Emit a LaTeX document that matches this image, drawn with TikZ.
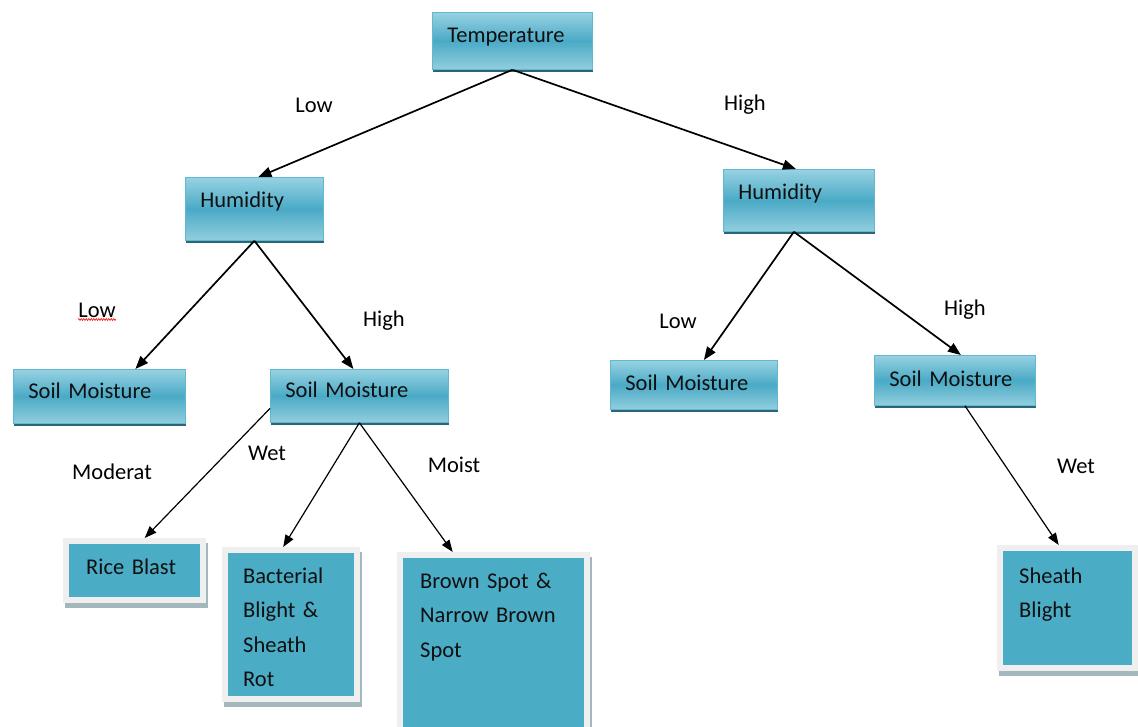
\documentclass[tikz,border=0pt]{standalone}
\usepackage{fontspec}
\setmainfont{Carlito}[WordSpace=0.75]
\usetikzlibrary{arrows.meta,shadows,decorations.pathmorphing}
\definecolor{gtop}{HTML}{97D2E2}
\definecolor{gmid}{HTML}{4AAAC6}
\definecolor{gbot}{HTML}{92CEDE}
\definecolor{gborder}{HTML}{62B8CF}
\definecolor{gshadow}{HTML}{2A6676}
\definecolor{leafblue}{HTML}{4BACC6}
\definecolor{leafframe}{HTML}{EFEFEF}
\definecolor{leafshadow}{HTML}{A3B7BD}
\definecolor{boxtext}{HTML}{101010}
\begin{document}
\begin{tikzpicture}[x=1pt,y=-1pt,
  gbox/.style={anchor=north west, inner xsep=15pt, inner ysep=0pt, align=left,
    text height=30pt, text=boxtext, font=\fontsize{22.5}{34.5}\selectfont,
    draw=gborder, line width=0.8pt, top color=gtop, bottom color=gbot, middle color=gmid,
    drop shadow={shadow xshift=1pt, shadow yshift=-3pt, fill=gshadow, opacity=1}},
  leaf/.style={anchor=north west, inner ysep=0pt, align=left, text height=36pt,
    text=boxtext, font=\fontsize{22.5}{34.5}\selectfont, fill=leafframe,
    drop shadow={shadow xshift=2pt, shadow yshift=-5pt, fill=leafshadow, opacity=1},
    path picture={\fill[leafblue] ([xshift=6pt,yshift=-6pt]path picture bounding box.north west)
      rectangle ([xshift=-6pt,yshift=6pt]path picture bounding box.south east);}},
  lbl/.style={font=\fontsize{22.5}{27}\selectfont, text=black, inner sep=0pt},
  arr/.style={-{Triangle[length=13pt,width=10pt]}, line width=1.7pt, black},
  arrs/.style={-{Triangle[length=12pt,width=9pt]}, line width=1.2pt, black}
]
\useasboundingbox (0,0) rectangle (1138,726);
\fill[white] (0,0) rectangle (1138,726);

% decision boxes
\node[gbox, text width=130pt, text depth=27pt] (temp) at (432,12) {Temperature};
\node[gbox, text width=108pt, text depth=33pt] (humL) at (185,177) {Humidity};
\node[gbox, text width=121pt, text depth=32pt] (humR) at (723,169) {Humidity};
\node[gbox, text width=142pt, text height=29pt, text depth=25pt] (smA) at (13,369) {Soil Moisture};
\node[gbox, text width=148pt, text height=28pt, text depth=25pt] (smB) at (270,369) {Soil Moisture};
\node[gbox, text width=137pt, text height=30pt, text depth=19pt] (smC) at (610,360) {Soil Moisture};
\node[gbox, text width=131pt, text height=31pt, text depth=19pt] (smD) at (874,355) {Soil Moisture};

% leaf boxes
\node[leaf, inner xsep=23pt, text width=97pt, text depth=29pt] (rice) at (63,538) {Rice Blast};
\node[leaf, inner xsep=21pt, text width=96pt, text depth=119pt] (bact) at (222,547) {Bacterial\\Blight \&\\Sheath\\Rot};
\node[leaf, inner xsep=23pt, text width=147pt, text depth=154pt] (brown) at (397,552) {Brown Spot \&\\Narrow Brown\\Spot};
\node[leaf, inner xsep=22pt, text width=97pt, text height=38pt, text depth=88pt] (sheath) at (997,545) {Sheath\\Blight};

% connectors
\draw[arr] (temp.south) -- ([xshift=4pt]humL.north);
\draw[arr] (temp.south) -- ([xshift=-3pt]humR.north);
\draw[arr] (humL.south) -- ([xshift=36pt]smA.north);
\draw[arr] (humL.south) -- ([xshift=-6pt]smB.north);
\draw[arr] ([xshift=-5pt]humR.south) -- ([xshift=10pt]smC.north);
\draw[arr] ([xshift=-5pt]humR.south) -- ([xshift=6pt]smD.north);
\draw[arrs] ([yshift=-12.5pt]smB.west) -- ([xshift=10pt]rice.north);
\draw[arrs] (smB.south) -- ([xshift=-8pt]bact.north);
\draw[arrs] (smB.south) -- ([xshift=-41pt]brown.north);
\draw[arrs] ([xshift=10pt]smD.south) -- ([xshift=-9pt]sheath.north);

% edge labels
\node[lbl] (l1) at (314,105) {Low};
\node[lbl] (l2) at (745,105) {High};
\node[lbl] (l3) at (97,310) {Low};
\node[lbl] (l4) at (384,321) {High};
\node[lbl] (l5) at (678,321) {Low};
\node[lbl] (l6) at (965,310) {High};
\node[lbl] (l7) at (112,472) {Moderat};
\node[lbl] (l8) at (267,453) {Wet};
\node[lbl] (l9) at (454,465) {Moist};
\node[lbl] (l10) at (1076,466) {Wet};
\draw[red, line width=0.6pt, decorate, decoration={zigzag, amplitude=1pt, segment length=2.5pt}]
  ([yshift=-2pt]l3.south west) -- ([yshift=-2pt]l3.south east);
\end{tikzpicture}
\end{document}
